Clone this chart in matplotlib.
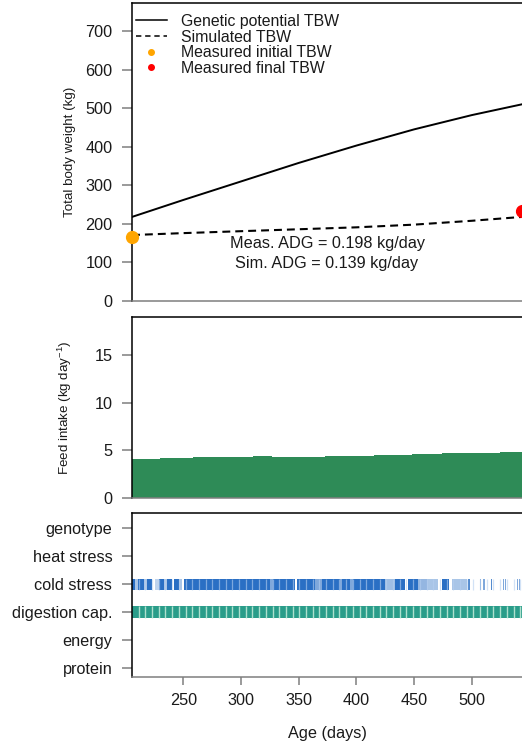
import numpy as np
import matplotlib
matplotlib.use("Agg")
import matplotlib.pyplot as plt
from matplotlib.lines import Line2D

plt.rcParams['font.family'] = ['Liberation Sans', 'DejaVu Sans']
plt.rcParams['mathtext.fontset'] = 'custom'
plt.rcParams['mathtext.rm'] = 'Liberation Sans'
plt.rcParams['mathtext.it'] = 'Liberation Sans:italic'

# ---- body weight (kg) ----
age_pot = [205.5, 250, 300, 350, 400, 450, 500, 543.5]
tbw_potential = [218, 262, 310, 358, 403, 445, 482, 510]
age_sim = [205.5, 250, 300, 350, 400, 450, 500, 543.5]
tbw_simulated = [171, 176, 181, 186, 191, 198, 208, 218]
age_initial, tbw_initial = 205.5, 167
age_final, tbw_final = 543.5, 234
meas_adg = 0.198
sim_adg = 0.139

# ---- feed intake (kg/day), step changes ----
intake_start = [205.5, 230, 258, 310, 327, 373, 415, 448, 474, 500, 524, 543.5]
intake_value = [4.09, 4.17, 4.28, 4.38, 4.33, 4.41, 4.51, 4.62, 4.72, 4.77, 4.85, 4.85]

# ---- limiting factors ----
factors = ["protein", "energy", "digestion cap.", "cold stress", "heat stress", "genotype"]
# (start day, end day, intensity) where cold stress was limiting
cold_periods = [
    (205.5, 208, 1.0), (208, 211, 0.4), (211, 215.5, 1.0), (215.5, 218.5, 0.4),
    (218.5, 222.6, 1.0), (225.4, 229, 0.3), (229, 233.5, 1.0), (233.5, 235.6, 0.4),
    (235.6, 240, 1.0), (242, 246, 1.0), (246, 248.6, 0.4), (250.3, 325, 1.0),
    (325, 328, 0.6), (328, 346.6, 1.0), (348.2, 364, 1.0), (364, 370, 0.6),
    (370, 385.7, 1.0), (385.7, 387.2, 0.6), (387.2, 394.4, 1.0), (394.4, 397.3, 0.6),
    (397.3, 424.7, 1.0), (424.7, 433.4, 0.45), (433.4, 442, 1.0), (444.7, 453.3, 1.0),
    (453.3, 461, 0.5), (461, 470.7, 0.4), (474, 480, 1.0), (482.5, 495.5, 0.4),
    (497, 498.4, 0.8), (507, 508.2, 0.6), (509.6, 511.4, 0.6), (516.5, 517.5, 0.8),
    (527, 528, 0.6), (529, 530, 0.6), (539, 540, 0.6), (541, 542, 0.6),
]
digestion_periods = [(205.5, 543.5, 1.0)]

W, H, DPI = 522, 747, 100
fig = plt.figure(figsize=(W / DPI, H / DPI), dpi=DPI)


def rect(top, bottom, left=132, right=523):
    return [left / W, (H - bottom) / H, (right - left) / W, (bottom - top) / H]


xlim = (205.5, 205.5 + 391 / 1.154)
tick_gray = "#7f7f7f"
text_col = '#1a1a1a'
fs = 11.7


def style(ax):
    ax.set_xlim(*xlim)
    ax.spines['right'].set_visible(False)
    ax.spines['left'].set_color('black')
    ax.spines['top'].set_color('black')
    ax.spines['bottom'].set_color(tick_gray)
    for s in ax.spines.values():
        s.set_linewidth(1.1)
    ax.tick_params(axis='y', direction='out', length=7.2, width=1.1, color=tick_gray,
                   pad=7.0, labelsize=fs, labelcolor=text_col)


# ---------------- panel 1: body weight ----------------
ax1 = fig.add_axes(rect(3, 301))
style(ax1)
ax1.set_ylim(0, 772.6)
ax1.set_yticks(range(0, 701, 100))
ax1.set_xticks([])
ax1.plot(age_pot, tbw_potential, color='black', lw=1.4)
ax1.plot(age_sim, tbw_simulated, color='black', lw=1.5, dashes=(3.8, 2.4))
ax1.plot([age_initial], [tbw_initial], 'o', color='orange', ms=8.5, clip_on=False, zorder=5)
ax1.plot([age_final], [tbw_final], 'o', color='red', ms=8.5, clip_on=False, zorder=5)
ax1.set_ylabel("Total body weight (kg)", fontsize=9.6, color=text_col)
ax1.yaxis.set_label_coords(-(132 - 76) / 391, 0.5)
ax1.text(374.5, 150, f"Meas. ADG = {meas_adg:.3f} kg/day", ha='center', va='center',
         fontsize=fs, color=text_col)
ax1.text(374.5, 98, f"Sim. ADG = {sim_adg:.3f} kg/day", ha='center', va='center',
         fontsize=fs, color=text_col)
handles = [
    Line2D([], [], color='black', lw=1.1),
    Line2D([], [], color='black', lw=1.1, dashes=(3.5, 2.5)),
    Line2D([], [], ls='none', marker='o', color='orange', ms=4),
    Line2D([], [], ls='none', marker='o', color='red', ms=4),
]
labels = ["Genetic potential TBW", "Simulated TBW", "Measured initial TBW", "Measured final TBW"]
ax1.legend(handles, labels, loc='upper left', bbox_to_anchor=(136 / W, 1 - 14 / H),
           bbox_transform=fig.transFigure, frameon=False, fontsize=11.4,
           borderpad=0, borderaxespad=0, handlelength=1.93, handletextpad=0.9,
           labelspacing=0.04, labelcolor=text_col)

# ---------------- panel 2: feed intake ----------------
ax2 = fig.add_axes(rect(317, 498))
style(ax2)
ax2.set_ylim(0, 19)
ax2.set_yticks([0, 5, 10, 15])
ax2.set_xticks([])
ax2.fill_between(intake_start, intake_value, step='post', color='#2E8B57', lw=0)
ax2.set_ylabel("Feed intake (kg day$^{-1}$)", fontsize=9.6, color=text_col)
ax2.yaxis.set_label_coords(-(132 - 74) / 391, 0.5)

# ---------------- panel 3: limiting factors ----------------
ax3 = fig.add_axes(rect(513, 677))
style(ax3)
ax3.set_ylim(0.667, 6.55)
ax3.set_yticks(range(1, len(factors) + 1))
ax3.set_yticklabels(factors)
ax3.set_xticks([250, 300, 350, 400, 450, 500])
ax3.tick_params(axis='x', direction='out', length=5.8, width=1.1, color=tick_gray,
                pad=5.5, labelsize=fs, labelcolor=text_col)
ax3.set_xlabel("Age (days)", fontsize=11.7, color=text_col, labelpad=13)

bar_h = 0.4
cold_y = factors.index("cold stress") + 1
dig_y = factors.index("digestion cap.") + 1
for s, e, a in cold_periods:
    ax3.broken_barh([(s, e - s)], (cold_y - bar_h / 2, bar_h), facecolors='#2A6FC4',
                    alpha=a, lw=0)
for s, e, a in digestion_periods:
    ax3.broken_barh([(s, e - s)], (dig_y - bar_h / 2, bar_h), facecolors='#2A9D8A',
                    alpha=a, lw=0)
# light cell boundaries within the bars
cells = np.arange(xlim[0] + 5.8, xlim[1], 5.8)
ax3.vlines(cells, dig_y - bar_h / 2, dig_y + bar_h / 2, color='#BDE8D6', lw=1.0, alpha=0.9)
ax3.vlines(cells, cold_y - bar_h / 2, cold_y + bar_h / 2, color='#B5CFF0', lw=0.9, alpha=0.6)

fig.savefig("out.png", dpi=DPI)
